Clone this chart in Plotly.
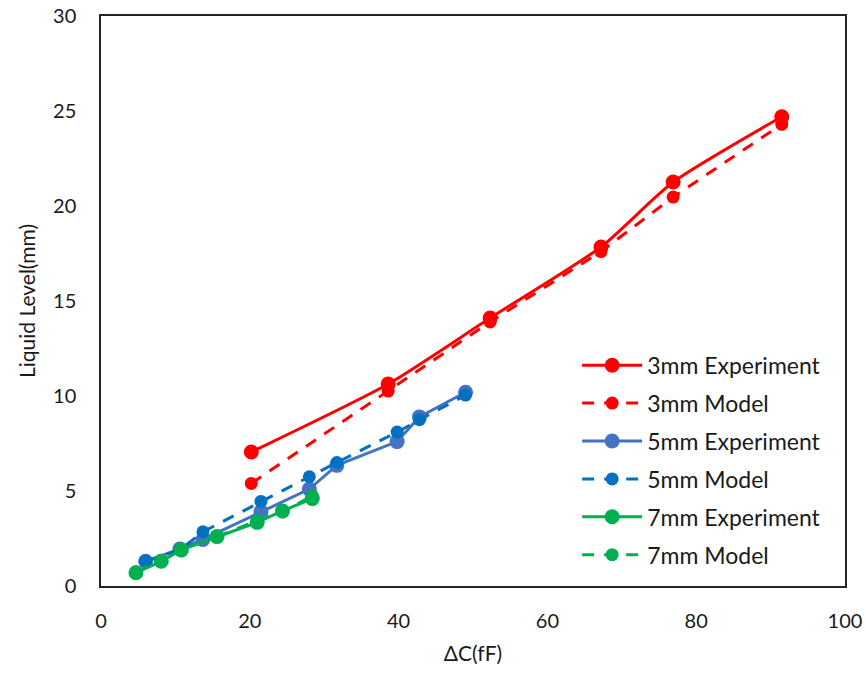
import plotly.graph_objects as go

# Capacitance change (fF) and liquid level (mm) for three electrode gaps
x_3mm = [20.2, 38.6, 52.3, 67.2, 76.9, 91.5]
y_3mm_exp = [7.05, 10.63, 14.1, 17.84, 21.26, 24.7]
y_3mm_model = [5.4, 10.26, 13.9, 17.6, 20.47, 24.3]

x_5mm = [6.0, 10.6, 13.7, 21.5, 28.0, 31.7, 39.8, 42.8, 49.0]
y_5mm_exp = [1.3, 1.95, 2.45, 3.9, 5.1, 6.35, 7.6, 8.9, 10.2]
y_5mm_model = [1.3, 1.9, 2.85, 4.45, 5.75, 6.5, 8.1, 8.75, 10.05]

x_7mm = [4.7, 8.1, 10.8, 15.6, 21.0, 24.4, 28.4]
y_7mm_exp = [0.7, 1.3, 1.9, 2.6, 3.35, 3.95, 4.6]
y_7mm_model = [0.75, 1.35, 1.85, 2.6, 3.45, 3.9, 4.75]

x_ticks = [0, 20, 40, 60, 80, 100]
y_ticks = [0, 5, 10, 15, 20, 25, 30]

FONT = "Lato, 'Open Sans', sans-serif"
TEXT = "#1a1a1a"

series = [
    ("3mm Experiment", x_3mm, y_3mm_exp, "#FF0000", "solid", 15, "spline"),
    ("3mm Model", x_3mm, y_3mm_model, "#FF0000", "12px,10px", 13, "linear"),
    ("5mm Experiment", x_5mm, y_5mm_exp, "#4472C4", "solid", 15, "linear"),
    ("5mm Model", x_5mm, y_5mm_model, "#0070C0", "12px,10px", 13, "linear"),
    ("7mm Experiment", x_7mm, y_7mm_exp, "#00B050", "solid", 15, "linear"),
    ("7mm Model", x_7mm, y_7mm_model, "#00B050", "12px,10px", 13, "linear"),
]

fig = go.Figure()
for name, xs, ys, color, dash, msize, shape in series:
    fig.add_trace(go.Scatter(
        x=xs, y=ys, name=name, mode="lines+markers",
        legendgroup=name,
        line=dict(color=color, width=3, dash=dash, shape=shape, smoothing=0.6),
        marker=dict(color=color, size=msize, symbol="circle"),
    ))

axis_common = dict(
    showgrid=False, zeroline=False, automargin=False,
    showline=True, linecolor="#262626", linewidth=1.5, mirror=True,
    tickfont=dict(family=FONT, size=20, color=TEXT),
    ticks="",
)

fig.update_xaxes(range=[0, 100], tickvals=x_ticks, ticklabelstandoff=16,
                 title=dict(text="ΔC(fF)", font=dict(family=FONT, size=21, color=TEXT), standoff=16),
                 **axis_common)
fig.update_yaxes(range=[0, 30], tickvals=y_ticks, ticklabelstandoff=19,
                 title=dict(text="Liquid Level(mm)", font=dict(family=FONT, size=21, color=TEXT), standoff=12),
                 **axis_common)

fig.update_layout(
    width=866, height=676,
    margin=dict(l=101, r=21, t=16, b=90),
    plot_bgcolor="white", paper_bgcolor="white",
    font=dict(family=FONT),
    legend=dict(
        x=0.64, y=0.425, xanchor="left", yanchor="top",
        font=dict(family=FONT, size=23, color=TEXT),
        bgcolor="rgba(0,0,0,0)", tracegroupgap=5,
        itemwidth=60,
    ),
)

fig.write_html("out.html")
